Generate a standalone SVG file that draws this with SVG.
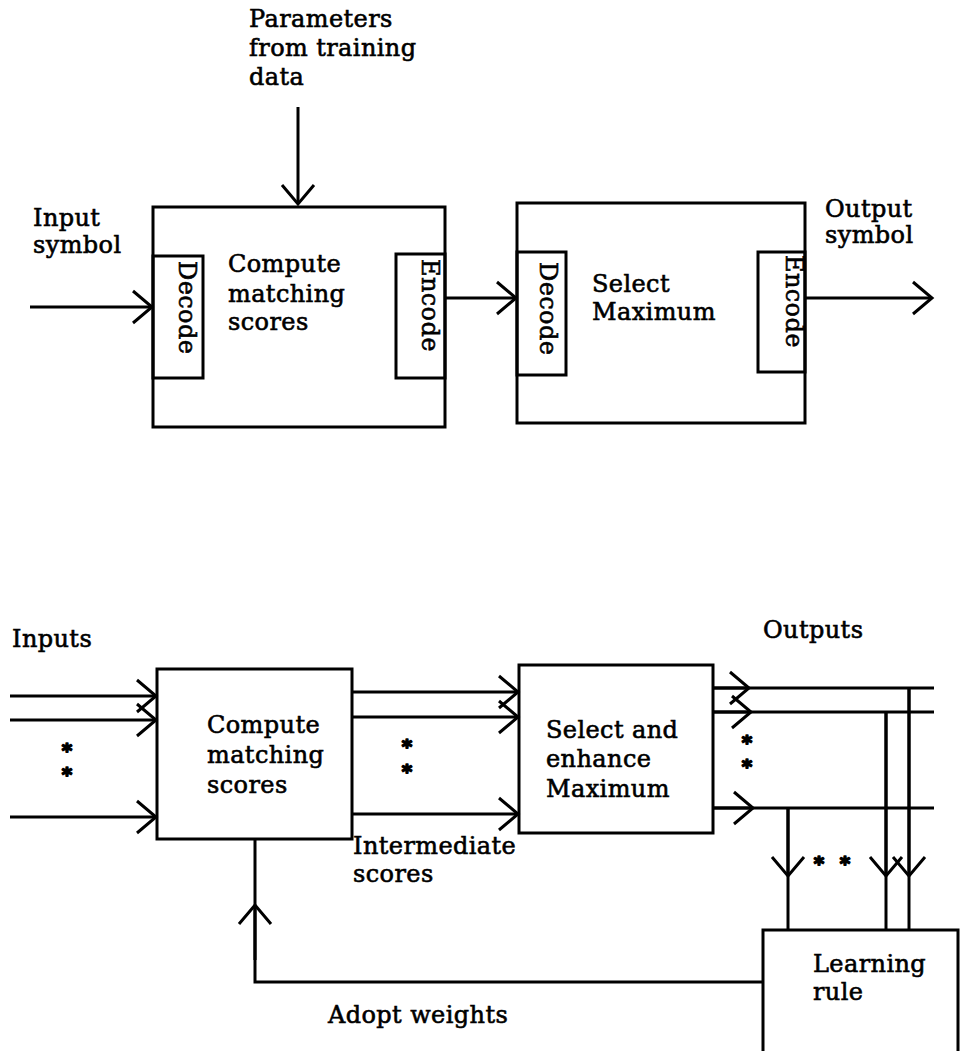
<svg xmlns="http://www.w3.org/2000/svg" width="961" height="1051" viewBox="0 0 961 1051">
<style>
.t{font-family:"DejaVu Serif","Liberation Serif",serif;font-size:24px;letter-spacing:0.4px;fill:#000;stroke:#000;stroke-width:0.6px}
.b{fill:none;stroke:#000;stroke-width:3}
.c{fill:none;stroke:#000;stroke-width:3}
.s{font-family:"DejaVu Sans",sans-serif;font-size:20px;font-weight:bold;text-anchor:middle;fill:#000;stroke:#000;stroke-width:1.6px;stroke-linejoin:round}
</style>
<defs>
<marker id="ah" markerUnits="userSpaceOnUse" viewBox="-24 -18 27 36" refX="0" refY="0" markerWidth="27" markerHeight="36" orient="auto">
<path d="M-19,-16 L0,0 L-19,16" fill="none" stroke="#000" stroke-width="3"/>
</marker>
</defs>
<rect width="961" height="1051" fill="#fff"/>

<g id="connectors">
<path class="c" d="M298,107 V204" marker-end="url(#ah)"/>
<path class="c" d="M30,307 H152" marker-end="url(#ah)"/>
<path class="c" d="M445,298 H516" marker-end="url(#ah)"/>
<path class="c" d="M805,298 H932" marker-end="url(#ah)"/>

<path class="c" d="M10,696 H156" marker-end="url(#ah)"/>
<path class="c" d="M10,720 H156" marker-end="url(#ah)"/>
<path class="c" d="M10,817 H156" marker-end="url(#ah)"/>

<path class="c" d="M352,692 H518" marker-end="url(#ah)"/>
<path class="c" d="M352,717 H518" marker-end="url(#ah)"/>
<path class="c" d="M352,814 H518" marker-end="url(#ah)"/>

<path class="c" d="M713,688 H934"/>
<path class="c" d="M713,712 H934"/>
<path class="c" d="M713,808 H934"/>
<path class="c" d="M713,688 H749" marker-end="url(#ah)"/>
<path class="c" d="M713,712 H751" marker-end="url(#ah)"/>
<path class="c" d="M713,808 H753" marker-end="url(#ah)"/>

<path class="c" d="M788,808 V930"/>
<path class="c" d="M886,712 V930"/>
<path class="c" d="M909,688 V930"/>
<path class="c" d="M788,808 V876" marker-end="url(#ah)"/>
<path class="c" d="M886,712 V876" marker-end="url(#ah)"/>
<path class="c" d="M909,688 V876" marker-end="url(#ah)"/>

<path class="c" d="M763,982 H255 V839"/>
<path class="c" d="M255,960 V905" marker-end="url(#ah)"/>
</g>

<g id="params-label">
<text class="t" x="249" y="27">Parameters</text>
<text class="t" x="249" y="56">from training</text>
<text class="t" x="249" y="85">data</text>
</g>
<g id="input-symbol-label">
<text class="t" x="33" y="226">Input</text>
<text class="t" x="33" y="253">symbol</text>
</g>
<g id="output-symbol-label">
<text class="t" x="825" y="217">Output</text>
<text class="t" x="825" y="243">symbol</text>
</g>

<g id="compute1">
<rect class="b" x="153" y="207" width="292" height="220"/>
<rect class="b" x="153" y="256" width="50" height="122"/>
<rect class="b" x="396" y="254" width="49" height="124"/>
<text class="t" transform="translate(179,261) rotate(90)">Decode</text>
<text class="t" transform="translate(422,259) rotate(90)">Encode</text>
<text class="t" x="228" y="272">Compute</text>
<text class="t" x="228" y="302">matching</text>
<text class="t" x="228" y="330">scores</text>
</g>

<g id="select1">
<rect class="b" x="517" y="203" width="288" height="220"/>
<rect class="b" x="517" y="252" width="49" height="123"/>
<rect class="b" x="758" y="252" width="47" height="120"/>
<text class="t" transform="translate(540,262) rotate(90)">Decode</text>
<text class="t" transform="translate(786,255) rotate(90)">Encode</text>
<text class="t" x="592" y="292">Select</text>
<text class="t" x="592" y="320">Maximum</text>
</g>

<g id="inputs-label">
<text class="t" x="12" y="647">Inputs</text>
<text class="s" x="67" y="757">*</text>
<text class="s" x="67" y="781">*</text>
</g>

<g id="compute2">
<rect class="b" x="157" y="669" width="195" height="170"/>
<text class="t" x="207" y="733">Compute</text>
<text class="t" x="207" y="763">matching</text>
<text class="t" x="207" y="793">scores</text>
</g>

<g id="intermediate-label">
<text class="s" x="407" y="753">*</text>
<text class="s" x="407" y="778">*</text>
<text class="t" x="353" y="854">Intermediate</text>
<text class="t" x="353" y="882">scores</text>
</g>

<g id="select2">
<rect class="b" x="519" y="665" width="194" height="168"/>
<text class="t" x="546" y="738">Select and</text>
<text class="t" x="546" y="767">enhance</text>
<text class="t" x="546" y="797">Maximum</text>
</g>

<g id="outputs-label">
<text class="t" x="763" y="638">Outputs</text>
<text class="s" x="747" y="749">*</text>
<text class="s" x="747" y="773">*</text>
<text class="s" x="819" y="870">*</text>
<text class="s" x="845" y="870">*</text>
</g>

<g id="learning-rule">
<path class="b" d="M763,1051 V930 H958 V1051"/>
<text class="t" x="813" y="972">Learning</text>
<text class="t" x="813" y="1000">rule</text>
</g>

<g id="adopt-label">
<text class="t" x="328" y="1023">Adopt weights</text>
</g>
</svg>
